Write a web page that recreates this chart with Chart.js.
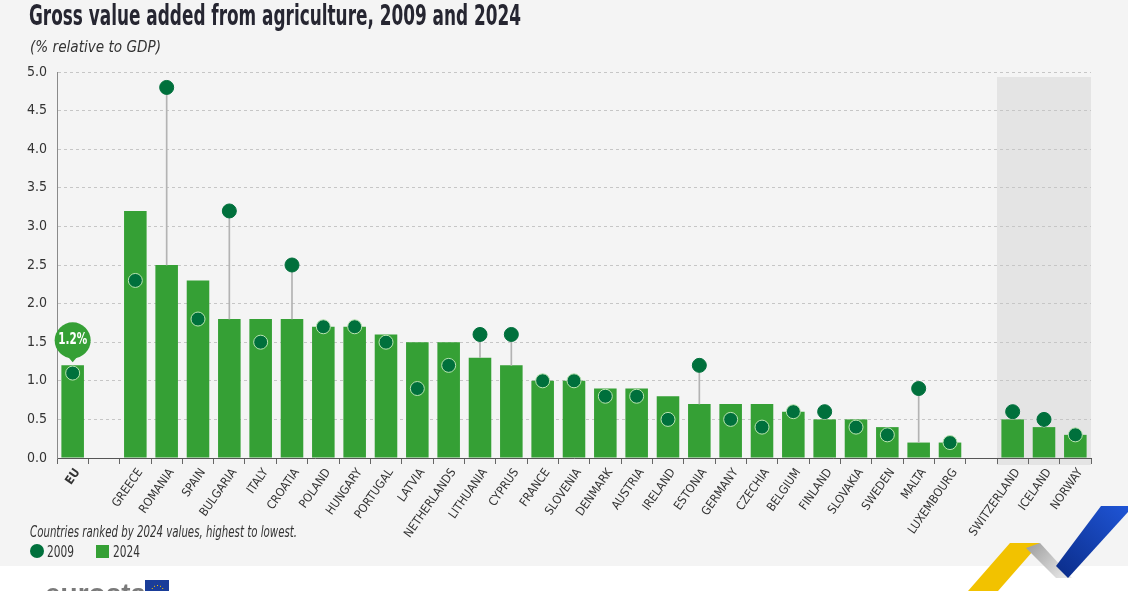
<!DOCTYPE html>
<html>
<head>
<meta charset="utf-8">
<script src="https://cdn.jsdelivr.net/npm/chart.js@4"></script>
<style>
  html, body { margin: 0; padding: 0; background: #fff; }
  #wrap { width: 1128px; height: 591px; position: relative; }
</style>
</head>
<body>
<div id="wrap"><canvas id="gva-chart" width="1128" height="591"></canvas></div>
<script>
// data
const countries = ['EU', '', 'GREECE', 'ROMANIA', 'SPAIN', 'BULGARIA', 'ITALY', 'CROATIA', 'POLAND', 'HUNGARY',
    'PORTUGAL', 'LATVIA', 'NETHERLANDS', 'LITHUANIA', 'CYPRUS', 'FRANCE', 'SLOVENIA', 'DENMARK', 'AUSTRIA',
    'IRELAND', 'ESTONIA', 'GERMANY', 'CZECHIA', 'BELGIUM', 'FINLAND', 'SLOVAKIA', 'SWEDEN', 'MALTA',
    'LUXEMBOURG', '', 'SWITZERLAND', 'ICELAND', 'NORWAY'];
const values2024 = [1.2, null, 3.2, 2.5, 2.3, 1.8, 1.8, 1.8, 1.7, 1.7,
    1.6, 1.5, 1.5, 1.3, 1.2, 1.0, 1.0, 0.9, 0.9,
    0.8, 0.7, 0.7, 0.7, 0.6, 0.5, 0.5, 0.4, 0.2,
    0.2, null, 0.5, 0.4, 0.3];
const values2009 = [1.1, null, 2.3, 4.8, 1.8, 3.2, 1.5, 2.5, 1.7, 1.7,
    1.5, 0.9, 1.2, 1.6, 1.6, 1.0, 1.0, 0.8, 0.8,
    0.5, 1.2, 0.5, 0.4, 0.6, 0.6, 0.4, 0.3, 0.9,
    0.2, null, 0.6, 0.5, 0.3];
const yTicks = [0, 0.5, 1, 1.5, 2, 2.5, 3, 3.5, 4, 4.5, 5];
const euValueLabel = '1.2%';

const BAR = '#35a035';
const DOT = '#00703c';
const FONT = "'DejaVu Sans Condensed', 'Liberation Sans Narrow', 'Liberation Sans', sans-serif";

// thin connectors where 2009 sits above the 2024 bar
const stems = values2009.map((v, i) => (v !== null && values2024[i] !== null && v > values2024[i]) ? [values2024[i], v] : null);

// squeeze a text into a given width (stand-in for a condensed face)
function fitText(ctx, text, x, y, width) {
    const w = ctx.measureText(text).width;
    const k = Math.min(1, width / w);
    let dx = 0;
    if (ctx.textAlign === 'center') dx = 0;
    ctx.save();
    ctx.translate(x, y);
    ctx.scale(k, 1);
    ctx.fillText(text, dx, 0);
    ctx.restore();
}

const decorPlugin = {
    id: 'decor',
    beforeDraw: function(chart) {
        const ctx = chart.ctx;
        const x = chart.scales.x;
        const y = chart.scales.y;
        ctx.save();
        ctx.fillStyle = '#f4f4f4';
        ctx.fillRect(0, 0, chart.width, 566);
        ctx.fillStyle = '#fff';
        ctx.fillRect(0, 566, chart.width, chart.height - 566);
        // non-EU shaded block
        const left = (x.getPixelForValue(29) + x.getPixelForValue(30)) / 2;
        const right = x.right;
        ctx.fillStyle = '#e4e4e4';
        ctx.fillRect(left, y.top + 5, right - left, y.bottom - y.top + 2);
        ctx.restore();
    },
    afterDraw: function(chart) {
        const ctx = chart.ctx;
        const x = chart.scales.x;
        const y = chart.scales.y;
        ctx.save();
        // title + subtitle
        ctx.fillStyle = '#262631';
        ctx.font = "bold 28px " + FONT;
        ctx.textBaseline = 'alphabetic';
        fitText(ctx, 'Gross value added from agriculture, 2009 and 2024', 29, 25, 492);
        ctx.font = "oblique 16px " + FONT;
        ctx.fillStyle = '#333';
        fitText(ctx, '(% relative to GDP)', 30, 52, 131);

        // EU bubble
        const bx = x.getPixelForValue(0);
        const top = y.getPixelForValue(values2024[0]);
        const by = top - 25;
        ctx.fillStyle = BAR;
        ctx.beginPath();
        ctx.arc(bx, by, 18, 0, Math.PI * 2);
        ctx.fill();
        ctx.beginPath();
        ctx.moveTo(bx - 6, by + 15);
        ctx.lineTo(bx + 6, by + 15);
        ctx.lineTo(bx, top - 3);
        ctx.closePath();
        ctx.fill();
        ctx.fillStyle = '#fff';
        ctx.font = "bold 15px " + FONT;
        ctx.textAlign = 'center';
        ctx.textBaseline = 'middle';
        fitText(ctx, euValueLabel, bx, by, 29);

        // footnote + legend
        ctx.textAlign = 'left';
        ctx.textBaseline = 'alphabetic';
        ctx.fillStyle = '#333';
        ctx.font = "oblique 15px " + FONT;
        fitText(ctx, 'Countries ranked by 2024 values, highest to lowest.', 30, 537, 267);
        ctx.fillStyle = DOT;
        ctx.beginPath();
        ctx.arc(37, 551, 7, 0, Math.PI * 2);
        ctx.fill();
        ctx.fillStyle = '#333';
        ctx.font = "15px " + FONT;
        fitText(ctx, '2009', 47, 557, 27);
        ctx.fillStyle = BAR;
        ctx.fillRect(96, 545, 13, 13);
        ctx.fillStyle = '#333';
        fitText(ctx, '2024', 113, 557, 27);

        // eurostat logo (cut off at the bottom)
        ctx.fillStyle = '#7a7a7a';
        ctx.font = "bold 28px 'Liberation Sans', Arial, sans-serif";
        ctx.fillText('eurostat', 45, 603);
        ctx.fillStyle = '#1a3d99';
        ctx.fillRect(145, 580, 24, 14);
        ctx.fillStyle = '#f5c400';
        for (let k = 0; k < 12; k++) {
            const a = k * Math.PI / 6;
            ctx.fillRect(157 + Math.cos(a) * 6, 591 + Math.sin(a) * 6, 1, 1);
        }

        // ribbons
        ctx.fillStyle = '#f2c200';
        ctx.beginPath();
        ctx.moveTo(968, 591); ctx.lineTo(998, 591); ctx.lineTo(1040, 543); ctx.lineTo(1010, 543);
        ctx.closePath(); ctx.fill();
        const g = ctx.createLinearGradient(1025, 543, 1065, 578);
        g.addColorStop(0, '#9a9a9a');
        g.addColorStop(1, '#e6e6e6');
        ctx.fillStyle = g;
        ctx.beginPath();
        ctx.moveTo(1026, 548); ctx.lineTo(1040, 543); ctx.lineTo(1072, 578); ctx.lineTo(1056, 578);
        ctx.closePath(); ctx.fill();
        const b = ctx.createLinearGradient(1060, 578, 1128, 506);
        b.addColorStop(0, '#0b2d8a');
        b.addColorStop(1, '#1f55d6');
        ctx.fillStyle = b;
        ctx.beginPath();
        ctx.moveTo(1056, 566); ctx.lineTo(1068, 578); ctx.lineTo(1128, 512); ctx.lineTo(1128, 506); ctx.lineTo(1101, 506);
        ctx.closePath(); ctx.fill();
        ctx.restore();
    }
};

const ctx = document.getElementById('gva-chart').getContext('2d');
const chart = new Chart(ctx, {
    type: 'bar',
    data: {
        labels: countries,
        datasets: [
            {
                type: 'line',
                label: '2009',
                data: values2009,
                showLine: false,
                pointRadius: 7,
                pointHoverRadius: 7,
                pointBackgroundColor: DOT,
                pointBorderWidth: 1,
                pointBorderColor: function(c) {
                    const i = c.dataIndex;
                    return values2009[i] <= values2024[i] ? '#b9e4b0' : DOT;
                },
                order: 0,
            },
            {
                label: 'stem',
                data: stems,
                backgroundColor: '#b3b3b3',
                barThickness: 1,
                grouped: false,
                order: 1,
            },
            {
                label: '2024',
                data: values2024,
                backgroundColor: BAR,
                barPercentage: 0.72,
                categoryPercentage: 1,
                grouped: false,
                order: 2,
            },
        ],
    },
    options: {
        responsive: false,
        animation: false,
        layout: {
            padding: { top: 72, left: 20, right: 37, bottom: 53 },
        },
        plugins: {
            legend: { display: false },
            tooltip: { enabled: false },
        },
        scales: {
            x: {
                offset: true,
                grid: {
                    offset: true,
                    drawOnChartArea: false,
                    drawTicks: true,
                    tickLength: 6,
                    color: '#666',
                },
                border: { color: '#555', width: 1 },
                ticks: {
                    autoSkip: false,
                    maxRotation: 55,
                    minRotation: 55,
                    padding: 2,
                    labelOffset: 5,
                    color: '#333',
                    font: function(c) {
                        return { family: FONT, size: 12, weight: c.index === 0 ? 'bold' : 'normal' };
                    },
                },
                afterFit: function(scale) { scale.height = 80; },
            },
            y: {
                min: 0,
                max: 5,
                afterBuildTicks: function(scale) {
                    scale.ticks = yTicks.map(v => ({ value: v }));
                },
                grid: {
                    color: '#c6c6c6',
                    drawTicks: false,
                },
                // in v4 border.dash styles the grid lines, the axis line stays solid
                border: { color: '#8a8a8a', width: 1, dash: [3, 3] },
                ticks: {
                    padding: 10,
                    color: '#333',
                    font: { family: FONT, size: 14 },
                    callback: function(v) { return Number(v).toFixed(1); },
                },
                afterFit: function(scale) { scale.width = 37; },
            },
        },
    },
    plugins: [decorPlugin],
});
</script>
</body>
</html>
